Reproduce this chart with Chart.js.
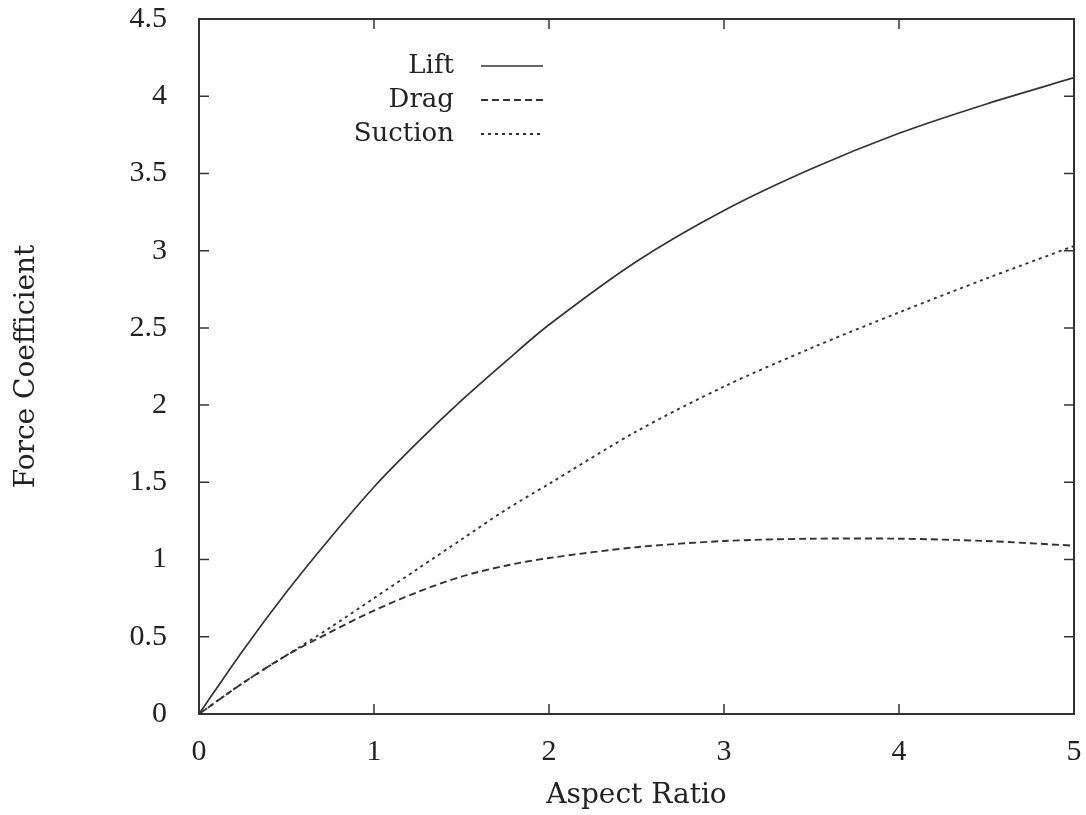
<!DOCTYPE html>
<html lang="en">
<head>
    <meta charset="UTF-8">
    <title>Force Coefficient vs Aspect Ratio</title>
    <script src="https://cdn.jsdelivr.net/npm/chart.js"></script>
    <style>
        html, body { margin: 0; padding: 0; background: #fff; }
        #wrap { width: 1086px; height: 815px; }
    </style>
</head>
<body>
    <div id="wrap"><canvas id="grafica"></canvas></div>
    <script>
        const aspect  = [0, 0.25, 0.5, 0.75, 1, 1.25, 1.5, 1.75, 2, 2.5, 3, 3.5, 4, 4.5, 5];
        const lift    = [0, 0.41, 0.79, 1.14, 1.47, 1.76, 2.03, 2.28, 2.52, 2.93, 3.26, 3.53, 3.76, 3.95, 4.12];
        const drag    = [0, 0.2, 0.38, 0.53, 0.67, 0.79, 0.89, 0.96, 1.01, 1.08, 1.12, 1.135, 1.135, 1.12, 1.09];
        const suction = [0, 0.2, 0.38, 0.56, 0.75, 0.94, 1.13, 1.32, 1.49, 1.83, 2.12, 2.37, 2.6, 2.82, 3.03];
        const xTicks = [0, 1, 2, 3, 4, 5];
        const yTicks = [0, 0.5, 1, 1.5, 2, 2.5, 3, 3.5, 4, 4.5];
        const yLabels = ['0', '0.5', '1', '1.5', '2', '2.5', '3', '3.5', '4', '4.5'];

        const FONT = 'DejaVu Serif';
        const NUM = 'Liberation Serif';
        const INK = '#333';
        const pts = ys => ys.map((y, i) => ({ x: aspect[i], y }));

        // frame, inward ticks and the legend (line sample to the right of the label)
        const marco = {
            id: 'marco',
            afterDraw(chart) {
                const { ctx, chartArea: a, scales: { x, y } } = chart;
                ctx.save();
                ctx.strokeStyle = INK;
                ctx.lineWidth = 2;
                ctx.strokeRect(a.left, a.top, a.right - a.left, a.bottom - a.top);
                ctx.lineWidth = 1.5;
                ctx.beginPath();
                xTicks.forEach(v => {
                    const px = x.getPixelForValue(v);
                    ctx.moveTo(px, a.bottom); ctx.lineTo(px, a.bottom - 10);
                    ctx.moveTo(px, a.top); ctx.lineTo(px, a.top + 10);
                });
                yTicks.forEach(v => {
                    const py = y.getPixelForValue(v);
                    ctx.moveTo(a.left, py); ctx.lineTo(a.left + 10, py);
                    ctx.moveTo(a.right, py); ctx.lineTo(a.right - 10, py);
                });
                ctx.stroke();

                ctx.font = '26px "' + FONT + '"';
                ctx.fillStyle = '#222';
                ctx.textAlign = 'right';
                ctx.textBaseline = 'middle';
                chart.data.datasets.forEach((d, i) => {
                    const ly = a.top + 47 + i * 34;
                    ctx.fillText(d.label, a.left + 255, ly);
                    ctx.strokeStyle = d.borderColor;
                    ctx.lineWidth = d.borderWidth;
                    ctx.setLineDash(d.borderDash || []);
                    ctx.beginPath();
                    ctx.moveTo(a.left + 282, ly); ctx.lineTo(a.left + 344, ly);
                    ctx.stroke();
                });
                ctx.restore();
            }
        };

        new Chart(document.getElementById('grafica'), {
            type: 'line',
            data: {
                datasets: [
                    { label: 'Lift', data: pts(lift), borderColor: INK, borderWidth: 1.7 },
                    { label: 'Drag', data: pts(drag), borderColor: INK, borderWidth: 1.9, borderDash: [7, 4] },
                    { label: 'Suction', data: pts(suction), borderColor: INK, borderWidth: 1.9, borderDash: [3, 4] }
                ]
            },
            options: {
                responsive: true,
                maintainAspectRatio: false,
                animation: false,
                layout: { padding: { top: 19, right: 12, left: 0, bottom: 0 } },
                elements: { point: { radius: 0 }, line: { tension: 0.3 } },
                plugins: { legend: { display: false }, tooltip: { enabled: false } },
                scales: {
                    x: {
                        type: 'linear', min: 0, max: 5,
                        afterBuildTicks: s => { s.ticks = xTicks.map(v => ({ value: v })); },
                        afterFit: s => { s.height = 101; s.paddingLeft = 0; s.paddingRight = 0; },
                        grid: { display: false },
                        border: { display: false },
                        ticks: { color: '#222', padding: 12, maxRotation: 0, font: { family: NUM, size: 30 } },
                        title: { display: true, text: 'Aspect Ratio', color: '#222', padding: { top: 10, bottom: 2 }, font: { family: FONT, size: 28 } }
                    },
                    y: {
                        type: 'linear', min: 0, max: 4.5,
                        afterBuildTicks: s => { s.ticks = yTicks.map(v => ({ value: v })); },
                        afterFit: s => { s.width = 199; s.paddingTop = 0; s.paddingBottom = 0; },
                        grid: { display: false },
                        border: { display: false },
                        ticks: { color: '#222', padding: 24, font: { family: NUM, size: 30 }, callback: (v, i) => yLabels[i] },
                        title: { display: true, text: 'Force Coefficient', color: '#222', padding: { top: 10, bottom: 0 }, font: { family: FONT, size: 28 } }
                    }
                }
            },
            plugins: [marco]
        });
    </script>
</body>
</html>
